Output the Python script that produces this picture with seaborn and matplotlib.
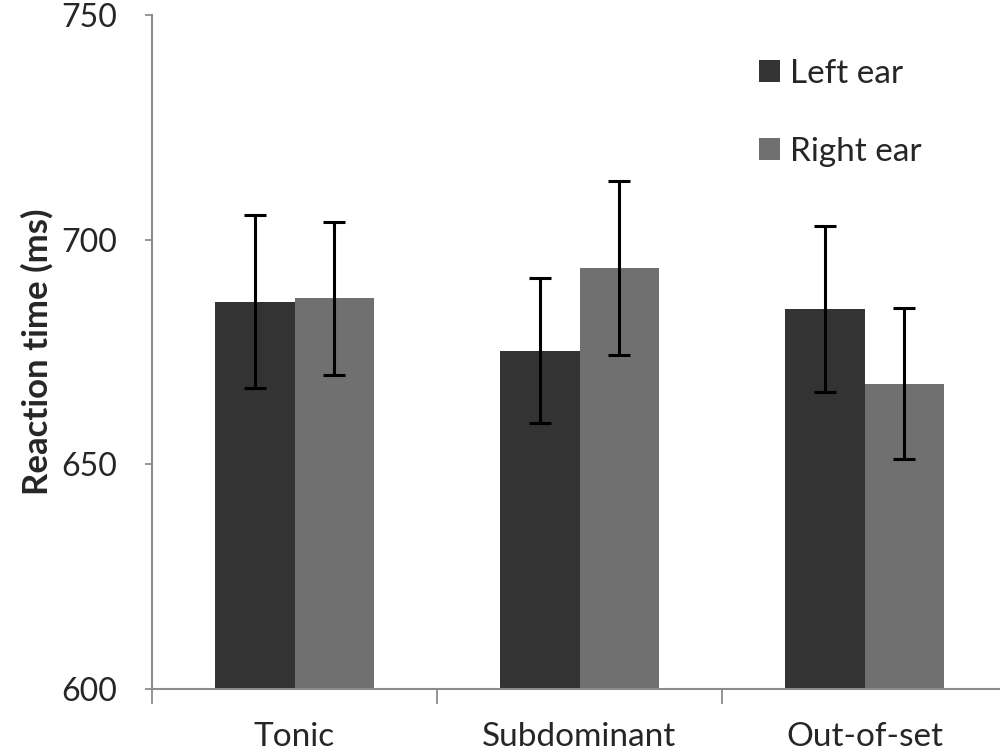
import pandas as pd
import matplotlib.pyplot as plt
import seaborn as sns

conditions = ['Tonic', 'Subdominant', 'Out-of-set']
ears = ['Left ear', 'Right ear']
left_rt = [686.2, 675.3, 684.6]
right_rt = [687.0, 693.7, 668.0]
left_err = [19.3, 16.1, 18.4]
right_err = [17.0, 19.3, 16.7]

df = pd.DataFrame({
    'Condition': conditions * 2,
    'Ear': [ears[0]] * 3 + [ears[1]] * 3,
    'RT': left_rt + right_rt,
    'Err': left_err + right_err,
})

sns.set_style('white')
plt.rcParams['font.family'] = ['Lato', 'DejaVu Sans']

fig = plt.figure(figsize=(10, 7.55), dpi=100)
ax = fig.add_axes([0.152, 0.0874, 0.848, 0.8926])

sns.barplot(data=df, x='Condition', y='RT', hue='Ear', order=conditions,
            hue_order=ears, palette=['#333333', '#707070'], width=0.56,
            errorbar=None, saturation=1, linewidth=0, ax=ax)

# error bars at the centre of each bar
for cont, ear in zip(ax.containers, ears):
    sub = df[df['Ear'] == ear].set_index('Condition').loc[conditions]
    xs = [p.get_x() + p.get_width() / 2 for p in cont.patches]
    ax.errorbar(xs, sub['RT'], yerr=sub['Err'], fmt='none', ecolor='black',
                elinewidth=2.2, capsize=8, capthick=2.2, zorder=5)

ax.set_ylim(600, 750)
ax.set_yticks([600, 650, 700, 750])
ax.set_xlim(-0.5, -0.5 + 848 / 285)
ax.set_ylabel('Reaction time (ms)', fontsize=25, fontweight='bold', labelpad=6)
ax.set_xlabel('')

for side in ['top', 'right']:
    ax.spines[side].set_visible(False)
for side in ['left', 'bottom']:
    ax.spines[side].set_color('#8c8c8c')
    ax.spines[side].set_linewidth(1.5)

ax.tick_params(axis='y', which='major', direction='out', length=5, width=1.3,
               color='#8c8c8c', labelsize=23, pad=20, left=True)
# category ticks sit on the boundaries between groups
ax.set_xticks([-0.5, 0.5, 1.5], minor=True)
ax.tick_params(axis='x', which='minor', direction='out', length=11, width=1.3,
               color='#8c8c8c', bottom=True)
ax.tick_params(axis='x', which='major', length=0, labelsize=24, pad=24)

ax.legend(loc='upper left', bbox_to_anchor=(0.68, 0.98), frameon=False,
          fontsize=24, handlelength=0.65, handleheight=0.65, handletextpad=0.3,
          labelspacing=1.45)

fig.savefig('out.png', dpi=100)
